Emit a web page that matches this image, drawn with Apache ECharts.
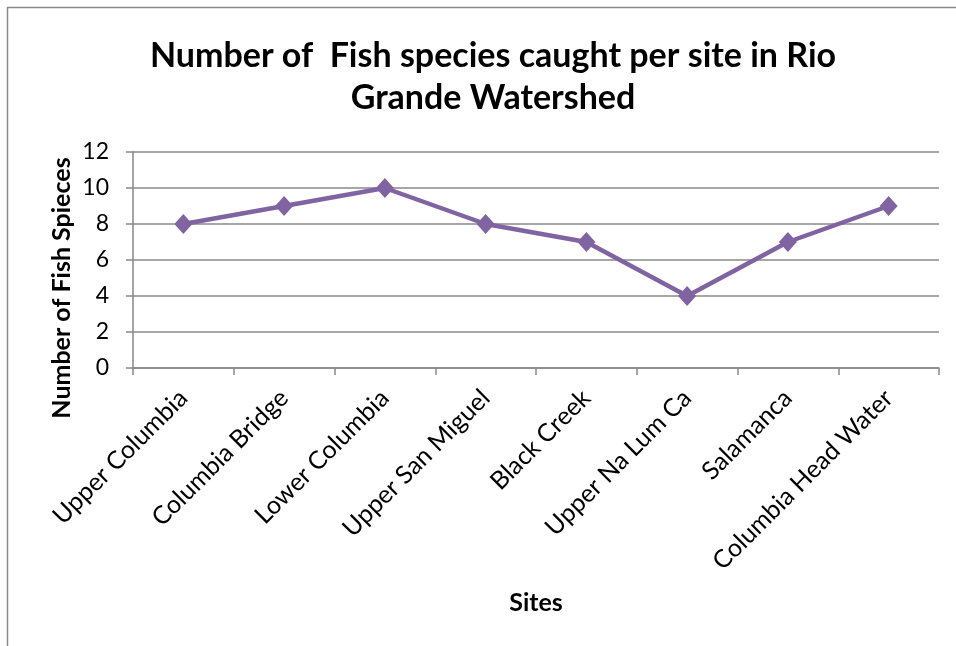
<!DOCTYPE html>
<html>
<head>
<meta charset="utf-8">
<script src="https://cdn.jsdelivr.net/npm/echarts@6/dist/echarts.min.js"></script>
<style>
html,body{margin:0;padding:0;background:#fff;}
#chart{width:956px;height:646px;}
</style>
</head>
<body>
<div id="chart"></div>
<script type="text/javascript">
// sites along the watershed
var sites = ['Upper Columbia', 'Columbia Bridge', 'Lower Columbia', 'Upper San Miguel',
	'Black Creek', 'Upper Na Lum Ca', 'Salamanca', 'Columbia Head Water'];
// number of fish species per site
var speciesCount = [8, 9, 10, 8, 7, 4, 7, 9];
var yTicks = [0, 2, 4, 6, 8, 10, 12];

var font = 'Lato, "Open Sans", sans-serif';
var gray = '#898989';

var chart = echarts.init(document.getElementById('chart'));
var option = {
	backgroundColor: '#fff',
	animation: false,
	title: {
		text: 'Number of  Fish species caught per site in Rio\nGrande Watershed',
		left: 488,
		top: 30,
		textAlign: 'center',
		textStyle: {
			fontFamily: font,
			fontWeight: 'bold',
			fontSize: 34,
			lineHeight: 42,
			color: '#000'
		}
	},
	grid: {left: 133, right: 17, top: 152, bottom: 278, containLabel: false},
	xAxis: {
		type: 'category',
		data: sites,
		boundaryGap: true,
		axisLine: {lineStyle: {color: gray, width: 1.5}},
		axisTick: {show: true, length: 7, inside: false, alignWithLabel: false, lineStyle: {color: gray, width: 1.5}},
		axisLabel: {
			rotate: 45,
			margin: 26,
			interval: 0,
			fontFamily: font,
			fontSize: 25,
			color: '#000'
		},
		splitLine: {show: false}
	},
	yAxis: {
		type: 'value',
		min: yTicks[0],
		max: yTicks[yTicks.length - 1],
		interval: 2,
		axisLine: {show: true, lineStyle: {color: gray, width: 1.5}},
		axisTick: {show: true, length: 7, lineStyle: {color: gray, width: 1.5}},
		axisLabel: {
			margin: 24,
			fontFamily: font,
			fontSize: 23,
			color: '#000'
		},
		splitLine: {lineStyle: {color: gray, width: 1.5}}
	},
	graphic: [
		{
			type: 'rect',
			shape: {x: 7.5, y: 7.5, width: 1200, height: 1200},
			style: {fill: 'none', stroke: '#8a8a8a', lineWidth: 1.5},
			silent: true
		},
		{
			type: 'text',
			x: 62, y: 288,
			rotation: Math.PI / 2,
			style: {
				text: 'Number of Fish Spieces',
				fontFamily: font,
				fontWeight: 'bold',
				fontSize: 25,
				fill: '#000',
				align: 'center',
				verticalAlign: 'middle'
			}
		},
		{
			type: 'text',
			x: 536, y: 603,
			style: {
				text: 'Sites',
				fontFamily: font,
				fontWeight: 'bold',
				fontSize: 25,
				fill: '#000',
				align: 'center',
				verticalAlign: 'middle'
			}
		}
	],
	series: [{
		type: 'line',
		data: speciesCount,
		symbol: 'diamond',
		symbolSize: [18, 20],
		lineStyle: {color: '#8064A2', width: 4.5},
		itemStyle: {color: '#8064A2'}
	}]
};
chart.setOption(option);
</script>
</body>
</html>
